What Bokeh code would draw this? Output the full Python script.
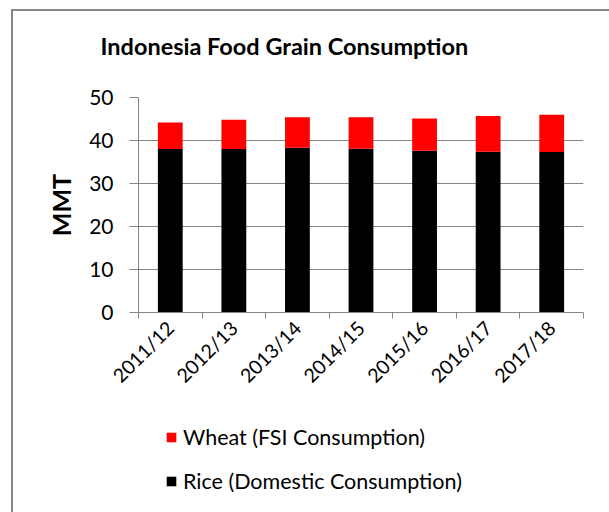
import math
from bokeh.plotting import figure
from bokeh.layouts import column
from bokeh.models import (ColumnDataSource, Range1d, FixedTicker, Legend, LegendItem,
                          InlineStyleSheet)
from bokeh.embed import file_html
from bokeh.resources import INLINE

# ---- data (MMT) ----
years = ["2011/12", "2012/13", "2013/14", "2014/15", "2015/16", "2016/17", "2017/18"]
rice = [38.0, 38.0, 38.3, 38.1, 37.6, 37.4, 37.3]
wheat = [6.2, 6.8, 7.1, 7.3, 7.5, 8.3, 8.7]
y_ticks = [0, 10, 20, 30, 40, 50]
series_labels = ["Rice (Domestic Consumption)", "Wheat (FSI Consumption)"]
series_colors = ["#000000", "#FF0000"]
chart_title = "Indonesia Food Grain Consumption"

FONT = "Lato"
GRAY = "#868686"
W = 609
LEFT, RIGHT = 138, 26


def strip(height, top, bottom):
    f = figure(width=W, height=height, output_backend="svg", toolbar_location=None,
               x_axis_type=None, y_axis_type=None,
               min_border_left=LEFT, min_border_right=RIGHT,
               min_border_top=top, min_border_bottom=bottom,
               x_range=Range1d(0, 1), y_range=Range1d(0, 1))
    f.border_fill_alpha = 0
    f.background_fill_alpha = 0
    f.outline_line_color = None
    f.grid.visible = False
    return f


# ---- title strip ----
head = strip(62, 60, 0)
head.title.text = chart_title
head.title.text_font = FONT
head.title.text_font_size = "23.5px"
head.title.text_font_style = "bold"
head.title.text_color = "#000000"
head.title.align = "left"
head.title.offset = -38
head.title.standoff = 2

# ---- main chart ----
n = len(years)
xs = [i + 0.5 for i in range(n)]
source = ColumnDataSource(dict(x=xs, rice=rice, wheat=wheat))

p = figure(width=W, height=338, output_backend="svg", toolbar_location=None, title=None,
           x_range=Range1d(0, n), y_range=Range1d(0, 50),
           min_border_left=LEFT, min_border_right=RIGHT, min_border_top=35, min_border_bottom=88)
p.border_fill_alpha = 0
p.background_fill_color = "white"

r = p.vbar_stack(["rice", "wheat"], x="x", width=0.39, color=series_colors,
                 line_color=None, source=source)

# x axis: labels at category centres, tick marks at category boundaries
p.xaxis.ticker = FixedTicker(ticks=xs, minor_ticks=list(range(n + 1)))
p.xaxis.major_label_overrides = {x: y for x, y in zip(xs, years)}
p.xaxis.major_label_orientation = math.pi / 4
p.xaxis.major_tick_in = 0
p.xaxis.major_tick_out = 0
p.xaxis.minor_tick_in = 0
p.xaxis.minor_tick_out = 6
p.xaxis.minor_tick_line_color = GRAY
p.xaxis.axis_line_color = GRAY
p.xaxis.major_label_text_font = FONT
p.xaxis.major_label_text_font_size = "19.5px"
p.xaxis.major_label_text_color = "#000000"
p.xaxis.major_label_standoff = 6

p.yaxis.ticker = FixedTicker(ticks=y_ticks)
p.yaxis.minor_tick_line_color = None
p.yaxis.major_tick_in = 0
p.yaxis.major_tick_out = 9
p.yaxis.major_tick_line_color = GRAY
p.yaxis.axis_line_color = GRAY
p.yaxis.major_label_text_font = FONT
p.yaxis.major_label_text_font_size = "21px"
p.yaxis.major_label_text_color = "#000000"
p.yaxis.major_label_standoff = 16
p.yaxis.axis_label = "MMT"
p.yaxis.axis_label_text_font = FONT
p.yaxis.axis_label_text_font_size = "25px"
p.yaxis.axis_label_text_font_style = "bold"
p.yaxis.axis_label_text_color = "#000000"
p.yaxis.axis_label_standoff = 10

p.xgrid.grid_line_color = None
p.ygrid.grid_line_color = GRAY
p.ygrid.ticker = FixedTicker(ticks=y_ticks)
p.outline_line_color = None

# ---- legend strip ----
leg = strip(96, 0, 0)
proxy_src = ColumnDataSource(dict(x=[0.5], top=[0.0]))  # zero-height swatch proxies
proxies = [leg.vbar(x="x", top="top", bottom="top", width=0.01, fill_color=c, line_color=None,
                    source=proxy_src) for c in series_colors]
legend = Legend(items=[LegendItem(label=series_labels[1], renderers=[proxies[1]]),
                       LegendItem(label=series_labels[0], renderers=[proxies[0]])],
                location=(27, 2), orientation="vertical", margin=0, padding=0,
                glyph_width=12, glyph_height=12, label_standoff=6, label_height=26,
                spacing=18, label_text_font=FONT, label_text_font_size="21.5px",
                label_text_color="#000000",
                border_line_color=None, background_fill_alpha=0)
leg.add_layout(legend, "center")

layout = column(head, p, leg, spacing=0)
layout.styles = {"background-color": "white"}
layout.stylesheets = [InlineStyleSheet(css=(
    ":host::before { content: ''; position: absolute; left: 11px; top: 9px; "
    "right: -40px; bottom: -40px; border-left: 2px solid #868686; "
    "border-top: 2px solid #868686; pointer-events: none; }"))]

open("out.html", "w").write(file_html(layout, INLINE))
